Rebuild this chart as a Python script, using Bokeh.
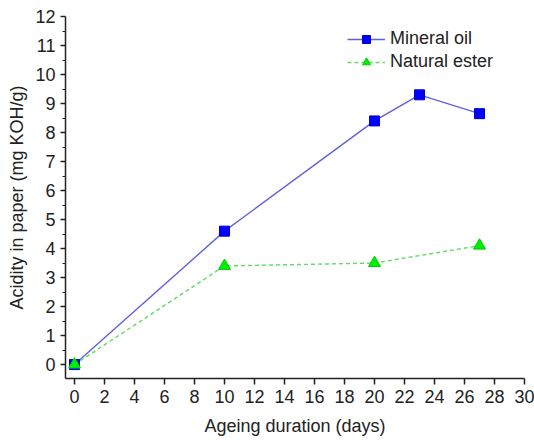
from bokeh.plotting import figure
from bokeh.models import FixedTicker, Legend, LegendItem, Range1d
from bokeh.embed import file_html
from bokeh.resources import INLINE

# Data
mineral_days = [0, 10, 20, 23, 27]
mineral_acidity = [0.0, 4.6, 8.4, 9.3, 8.65]
ester_days = [0, 10, 20, 27]
ester_acidity = [0.0, 3.4, 3.5, 4.1]
x_ticks = list(range(0, 31, 2))
y_ticks = list(range(0, 13))
y_minor = [v + 0.5 for v in range(-1, 12)]

FONT = "Liberation Sans"

p = figure(width=534, height=443, output_backend="svg", toolbar_location=None,
           x_range=Range1d(-0.6, 30), y_range=Range1d(-0.48, 12),
           min_border_left=65, min_border_right=10, min_border_top=16, min_border_bottom=65)
p.outline_line_color = None
p.xgrid.visible = False
p.ygrid.visible = False
p.background_fill_color = "white"
p.border_fill_color = "white"

l1 = p.line(mineral_days, mineral_acidity, line_color="#6060e0", line_width=1.4)
s1 = p.scatter(mineral_days, mineral_acidity, marker="square", size=10,
               fill_color="#0000ff", line_color="#0000cc", line_width=1)
l2 = p.line(ester_days, ester_acidity, line_color="#60dc60", line_width=1.4, line_dash="4 3")
s2 = p.scatter(ester_days, ester_acidity, marker="triangle", size=12,
               fill_color="#00ee00", line_color="#00cc00", line_width=1)

for ax in (p.xaxis[0], p.yaxis[0]):
    ax.axis_line_color = "#222222"
    ax.axis_line_width = 1.5
    ax.major_tick_line_color = "#222222"
    ax.minor_tick_line_color = "#222222"
    ax.major_tick_line_width = 1.5
    ax.minor_tick_line_width = 1.2
    ax.major_tick_in = 0
    ax.minor_tick_in = 0
    ax.major_label_text_font = FONT
    ax.major_label_text_font_size = "18px"
    ax.major_label_text_color = "#222222"
    ax.axis_label_text_font = FONT
    ax.axis_label_text_font_size = "18px"
    ax.axis_label_text_font_style = "normal"
    ax.axis_label_text_color = "#222222"

p.xaxis.ticker = FixedTicker(ticks=x_ticks, minor_ticks=[])
p.xaxis.major_tick_out = 6
p.xaxis.minor_tick_out = 0
p.xaxis.major_label_standoff = 5
p.xaxis.axis_label = "Ageing duration (days)"
p.xaxis.axis_label_standoff = 10

p.yaxis.ticker = FixedTicker(ticks=y_ticks, minor_ticks=y_minor)
p.yaxis.major_tick_out = 5
p.yaxis.minor_tick_out = 3
p.yaxis.major_label_standoff = 5
p.yaxis.axis_label = "Acidity in paper (mg KOH/g)"
p.yaxis.axis_label_standoff = 5

legend = Legend(items=[LegendItem(label="Mineral oil", renderers=[l1, s1]),
                       LegendItem(label="Natural ester", renderers=[l2, s2])],
                location=(282, 306))
legend.margin = 0
legend.padding = 0
legend.border_line_color = None
legend.background_fill_alpha = 0
legend.glyph_width = 38
legend.glyph_height = 20
legend.label_height = 20
legend.spacing = 2
legend.label_standoff = 5
legend.label_text_font = FONT
legend.label_text_font_size = "18px"
legend.label_text_color = "#222222"
p.add_layout(legend, "center")

open("out.html", "w").write(file_html(p, INLINE))
